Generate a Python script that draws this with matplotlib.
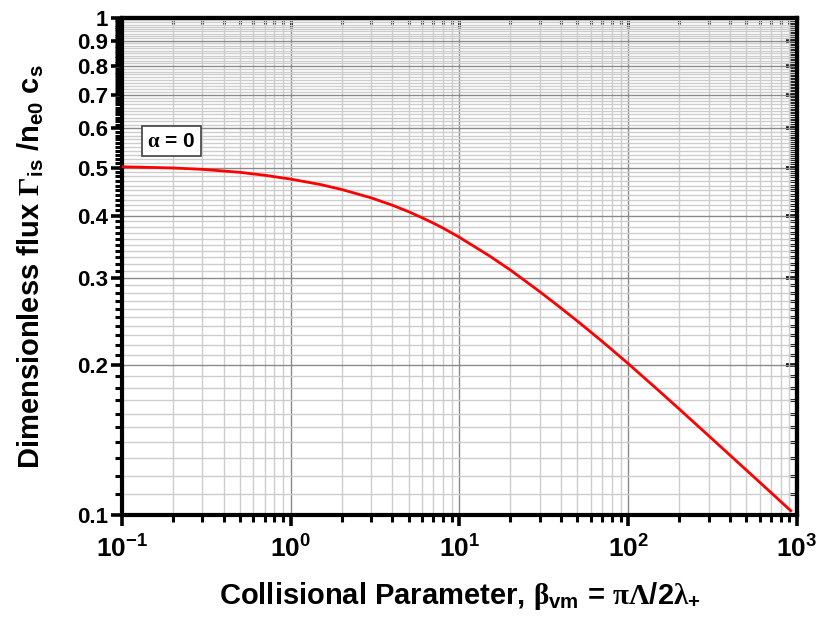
import numpy as np
import matplotlib
matplotlib.use("Agg")
import matplotlib.pyplot as plt
from matplotlib import font_manager
from matplotlib.ticker import FixedLocator, NullFormatter, LogLocator

plt.rcParams['font.family'] = ['Liberation Sans', 'DejaVu Sans']
plt.rcParams['font.weight'] = 'bold'
plt.rcParams['mathtext.fontset'] = 'custom'
plt.rcParams['mathtext.rm'] = 'Liberation Sans:bold'
plt.rcParams['mathtext.bf'] = 'Liberation Sans:bold'
plt.rcParams['mathtext.it'] = 'Liberation Sans:bold'
plt.rcParams['mathtext.sf'] = 'Liberation Serif'

# collisional parameter and dimensionless ion flux (alpha = 0)
beta = [0.1, 0.2, 0.3, 0.5, 0.7, 1, 1.5, 2, 3, 4, 5, 6, 7, 8, 9, 10, 15, 20,
        30, 40, 50, 60, 70, 80, 100, 150, 200, 300, 500, 700, 918]
flux = [0.502, 0.4992, 0.4960, 0.4892, 0.4826, 0.4741, 0.4623, 0.4519,
        0.4346, 0.4201, 0.4076, 0.3964, 0.3866, 0.3777, 0.3694, 0.3619,
        0.3324, 0.3112, 0.2812, 0.2607, 0.2455, 0.2334, 0.2235, 0.2151,
        0.2016, 0.1785, 0.1635, 0.1443, 0.1232, 0.1110, 0.1020]

y_major = [0.1, 0.2, 0.3, 0.4, 0.5, 0.6, 0.7, 0.8, 0.9, 1.0]
y_labels = ['0.1', '0.2', '0.3', '0.4', '0.5', '0.6', '0.7', '0.8', '0.9', '1']
y_minor = [round(v, 2) for v in np.arange(0.11, 1.0, 0.01)
           if round(v, 2) not in y_major]
x_major = [0.1, 1, 10, 100, 1000]
x_labels = [r'$\mathbf{10^{-1}}$', r'$\mathbf{10^{0}}$', r'$\mathbf{10^{1}}$',
            r'$\mathbf{10^{2}}$', r'$\mathbf{10^{3}}$']

# narrow face for the tall y label, if it is there
try:
    font_manager.findfont(font_manager.FontProperties(
        family='Liberation Sans Narrow', weight='bold'), fallback_to_default=False)
    ylab_family, ylab_size = ['Liberation Sans Narrow'], 23
except ValueError:
    ylab_family, ylab_size = ['Liberation Sans'], 21

fig = plt.figure(figsize=(8.17, 6.21), dpi=100)
ax = fig.add_axes([0.1493, 0.1707, 0.8262, 0.8003])
ax.set_xscale('log')
ax.set_yscale('log')
ax.set_xlim(0.1, 1000)
ax.set_ylim(0.1, 1.0)

ax.yaxis.set_major_locator(FixedLocator(y_major))
ax.yaxis.set_minor_locator(FixedLocator(y_minor))
ax.yaxis.set_minor_formatter(NullFormatter())
ax.set_yticklabels(y_labels)
ax.xaxis.set_major_locator(FixedLocator(x_major))
ax.xaxis.set_minor_locator(LogLocator(base=10, subs=np.arange(2, 10)))
ax.xaxis.set_minor_formatter(NullFormatter())
ax.set_xticklabels(x_labels)

ax.grid(which='major', color='#8a8a8a', lw=1.0)
ax.grid(which='minor', color='#cdcdcd', lw=1.0)
ax.set_axisbelow(True)

ax.plot(beta, flux, color='#ff0000', lw=2.0, zorder=3)

for s in ax.spines.values():
    s.set_linewidth(3.0)

ax.tick_params(axis='both', which='major', direction='out', length=8, width=2.6)
ax.tick_params(axis='both', which='minor', direction='out', length=5, width=2.2)
ax.tick_params(axis='x', which='major', labelsize=19, pad=7)
ax.tick_params(axis='y', which='major', labelsize=16, pad=2)

# inward ticks on the top and right sides
top = ax.secondary_xaxis('top')
top.xaxis.set_major_locator(FixedLocator(x_major))
top.xaxis.set_minor_locator(LogLocator(base=10, subs=np.arange(2, 10)))
top.xaxis.set_major_formatter(NullFormatter())
top.xaxis.set_minor_formatter(NullFormatter())
top.tick_params(which='major', direction='in', length=7, width=2.2)
top.tick_params(which='minor', direction='in', length=4, width=2.2)
top.spines['top'].set_linewidth(3.0)

right = ax.secondary_yaxis('right')
right.yaxis.set_major_locator(FixedLocator(y_major))
right.yaxis.set_minor_locator(FixedLocator(y_minor))
right.yaxis.set_major_formatter(NullFormatter())
right.yaxis.set_minor_formatter(NullFormatter())
right.tick_params(which='major', direction='in', length=8, width=2.6)
right.tick_params(which='minor', direction='in', length=5, width=2.2)
right.spines['right'].set_linewidth(3.0)

ax.set_xlabel(r'Collisional Parameter, $\mathsf{\beta}_{\mathrm{vm}}$ = '
              r'$\mathsf{\pi\Lambda}$/2$\mathsf{\lambda}_{+}$',
              fontsize=21, fontweight='bold', va='top')
ax.xaxis.set_label_coords(0.5, -0.13)
ax.set_ylabel(r'Dimensionless flux $\mathsf{\Gamma}_{\mathrm{is}}$ /'
              r'n$_{\mathrm{e0}}$ c$_{\mathrm{s}}$',
              family=ylab_family, fontsize=ylab_size, fontweight='bold',
              va='center')
ax.yaxis.set_label_coords(-0.135, 0.5)

ax.text(0.0733, 0.7525, r'$\mathsf{\alpha}$ = 0', transform=ax.transAxes,
        fontsize=15, fontweight='bold', ha='center', va='center', zorder=4,
        bbox=dict(boxstyle='square,pad=0.25', fc='white', ec='#404040', lw=1.2))

fig.savefig('out.png', dpi=100)
